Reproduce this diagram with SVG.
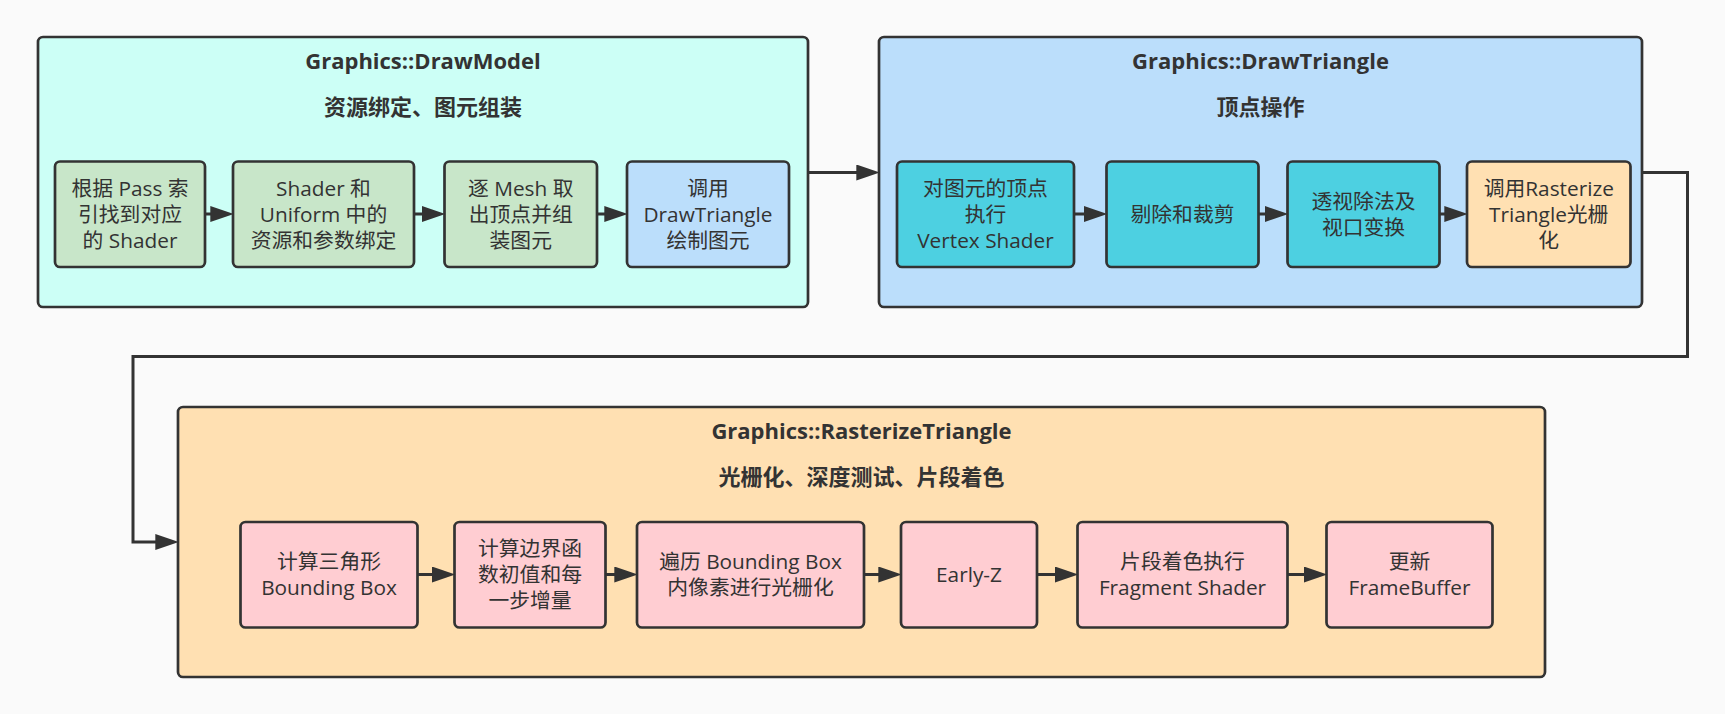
<svg xmlns="http://www.w3.org/2000/svg" width="1725" height="714" viewBox="0 0 1725 714">
<defs>
<style>
.panel{stroke:#333333;stroke-width:2.7}
.node{stroke:#333333;stroke-width:2.7}
.title{font-family:"Open Sans","Noto Sans CJK SC",sans-serif;font-size:22px;font-weight:bold;fill:#333333;text-anchor:middle}
.sub{font-family:"Noto Sans CJK SC","Open Sans",sans-serif;font-size:22px;font-weight:bold;fill:#333333;text-anchor:middle}
.lbl{font-family:"Open Sans","Noto Sans CJK SC",sans-serif;font-size:20.8px;fill:#333333;text-anchor:middle}
.conn{fill:none;stroke:#333333;stroke-width:3}
.green{fill:#C8E6C9}
.blue{fill:#BBDEFB}
.cyan{fill:#4DD0E1}
.orange{fill:#FFE0B2}
.pink{fill:#FFCDD2}
</style>
<marker id="arrow" markerUnits="userSpaceOnUse" markerWidth="24" markerHeight="16" viewBox="0 0 22 15" refX="10" refY="7.5" orient="auto">
<path d="M0,0 L22,7.5 L0,15 Z" fill="#333333"/>
</marker>
</defs>
<rect x="0" y="0" width="1725" height="714" fill="#FAFAFA"/>

<g id="panel-drawmodel">
<rect class="panel" x="38" y="37" width="770" height="270" rx="5" fill="#CCFFF6"/>
<text class="title" x="423" y="68.5">Graphics::DrawModel</text>
<text class="sub" x="423" y="115">资源绑定、图元组装</text>
</g>
<g id="panel-drawtriangle">
<rect class="panel" x="879" y="37" width="763" height="270" rx="5" fill="#BBDEFB"/>
<text class="title" x="1260.5" y="68.5">Graphics::DrawTriangle</text>
<text class="sub" x="1260.5" y="115">顶点操作</text>
</g>
<g id="panel-rasterize">
<rect class="panel" x="178" y="407" width="1367" height="270" rx="5" fill="#FFE0B2"/>
<text class="title" x="861.5" y="439">Graphics::RasterizeTriangle</text>
<text class="sub" x="861.5" y="485">光栅化、深度测试、片段着色</text>
</g>

<g id="n-find-shader">
<rect class="node green" x="55" y="161.5" width="150" height="105.5" rx="5"/>
<text class="lbl"><tspan x="130" y="195.5">根据 Pass 索</tspan><tspan x="130" y="221.5">引找到对应</tspan><tspan x="130" y="247.5">的 Shader</tspan></text>
</g>
<g id="n-bind">
<rect class="node green" x="233" y="161.5" width="181" height="105.5" rx="5"/>
<text class="lbl"><tspan x="323.5" y="195.5">Shader 和</tspan><tspan x="323.5" y="221.5">Uniform 中的</tspan><tspan x="323.5" y="247.5">资源和参数绑定</tspan></text>
</g>
<g id="n-assemble">
<rect class="node green" x="444.5" y="161.5" width="152.5" height="105.5" rx="5"/>
<text class="lbl"><tspan x="520.75" y="195.5">逐 Mesh 取</tspan><tspan x="520.75" y="221.5">出顶点并组</tspan><tspan x="520.75" y="247.5">装图元</tspan></text>
</g>
<g id="n-call-drawtriangle">
<rect class="node blue" x="627" y="161.5" width="162" height="105.5" rx="5"/>
<text class="lbl"><tspan x="708" y="195.5">调用</tspan><tspan x="708" y="221.5">DrawTriangle</tspan><tspan x="708" y="247.5">绘制图元</tspan></text>
</g>

<g id="n-vertex-shader">
<rect class="node cyan" x="897" y="161.5" width="177" height="105.5" rx="5"/>
<text class="lbl"><tspan x="985.5" y="195.5">对图元的顶点</tspan><tspan x="985.5" y="221.5">执行</tspan><tspan x="985.5" y="247.5">Vertex Shader</tspan></text>
</g>
<g id="n-cull-clip">
<rect class="node cyan" x="1106.5" y="161.5" width="152" height="105.5" rx="5"/>
<text class="lbl" x="1182.5" y="221.5">剔除和裁剪</text>
</g>
<g id="n-perspective">
<rect class="node cyan" x="1287.5" y="161.5" width="152" height="105.5" rx="5"/>
<text class="lbl"><tspan x="1363.5" y="208.5">透视除法及</tspan><tspan x="1363.5" y="234.5">视口变换</tspan></text>
</g>
<g id="n-call-rasterize">
<rect class="node orange" x="1467" y="161.5" width="163.5" height="105.5" rx="5"/>
<text class="lbl"><tspan x="1548.75" y="195.5">调用Rasterize</tspan><tspan x="1548.75" y="221.5">Triangle光栅</tspan><tspan x="1548.75" y="247.5">化</tspan></text>
</g>

<g id="n-bbox">
<rect class="node pink" x="240.5" y="522" width="177" height="105.5" rx="5"/>
<text class="lbl"><tspan x="329" y="569">计算三角形</tspan><tspan x="329" y="595">Bounding Box</tspan></text>
</g>
<g id="n-edge-func">
<rect class="node pink" x="454.5" y="522" width="151" height="105.5" rx="5"/>
<text class="lbl"><tspan x="530" y="556">计算边界函</tspan><tspan x="530" y="582">数初值和每</tspan><tspan x="530" y="608">一步增量</tspan></text>
</g>
<g id="n-traverse">
<rect class="node pink" x="637" y="522" width="227" height="105.5" rx="5"/>
<text class="lbl"><tspan x="750.5" y="569">遍历 Bounding Box</tspan><tspan x="750.5" y="595">内像素进行光栅化</tspan></text>
</g>
<g id="n-earlyz">
<rect class="node pink" x="901" y="522" width="136" height="105.5" rx="5"/>
<text class="lbl" x="969" y="582">Early-Z</text>
</g>
<g id="n-fragment">
<rect class="node pink" x="1077.5" y="522" width="210" height="105.5" rx="5"/>
<text class="lbl"><tspan x="1182.5" y="569">片段着色执行</tspan><tspan x="1182.5" y="595">Fragment Shader</tspan></text>
</g>
<g id="n-framebuffer">
<rect class="node pink" x="1326.5" y="522" width="166" height="105.5" rx="5"/>
<text class="lbl"><tspan x="1409.5" y="569">更新</tspan><tspan x="1409.5" y="595">FrameBuffer</tspan></text>
</g>

<g id="connectors">
<path class="conn" d="M205,214 H221" marker-end="url(#arrow)"/>
<path class="conn" d="M414,214 H432.5" marker-end="url(#arrow)"/>
<path class="conn" d="M597,214 H615" marker-end="url(#arrow)"/>
<path class="conn" d="M808,172.5 H867" marker-end="url(#arrow)"/>
<path class="conn" d="M1074,214 H1094.5" marker-end="url(#arrow)"/>
<path class="conn" d="M1258.5,214 H1275.5" marker-end="url(#arrow)"/>
<path class="conn" d="M1439.5,214 H1455" marker-end="url(#arrow)"/>
<path class="conn" d="M1642,172.5 H1687.5 V356.5 H133 V542 H166" marker-end="url(#arrow)"/>
<path class="conn" d="M417.5,574.5 H442.5" marker-end="url(#arrow)"/>
<path class="conn" d="M605.5,574.5 H625" marker-end="url(#arrow)"/>
<path class="conn" d="M864,574.5 H889" marker-end="url(#arrow)"/>
<path class="conn" d="M1037,574.5 H1065.5" marker-end="url(#arrow)"/>
<path class="conn" d="M1287.5,574.5 H1314.5" marker-end="url(#arrow)"/>
</g>
</svg>
